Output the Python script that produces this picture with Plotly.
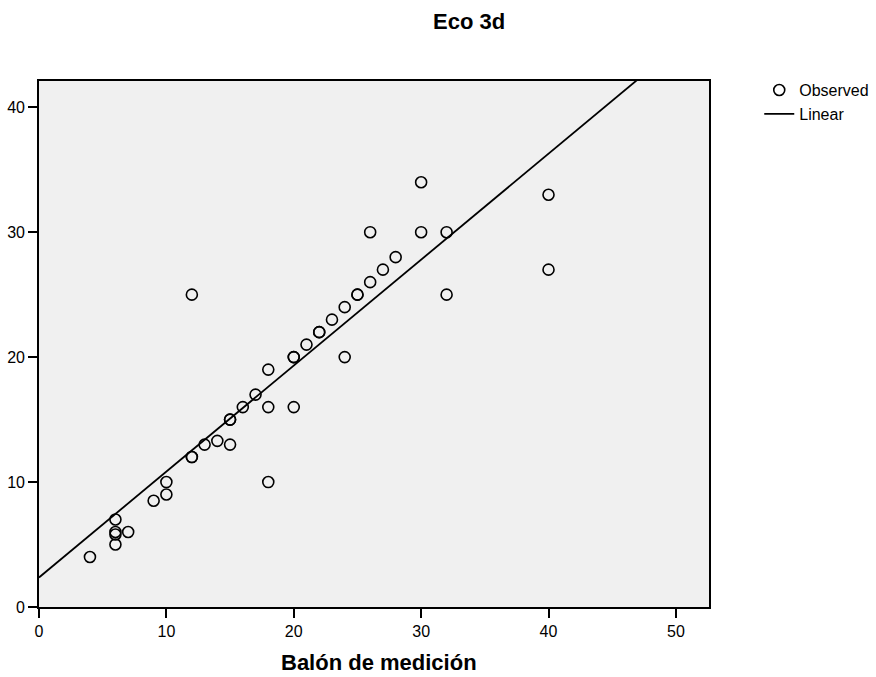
import plotly.graph_objects as go

# Observed data (Balón de medición vs Eco 3d)
balon = [4, 6, 6, 6, 6, 7, 9, 10, 10, 12, 12, 12, 13, 14, 15, 15, 15, 16, 17, 18, 18, 18,
         20, 20, 20, 21, 22, 22, 23, 24, 24, 25, 25, 26, 26, 27, 28, 30, 30, 32, 32, 40, 40]
eco3d = [4, 7, 6, 5.8, 5, 6, 8.5, 10, 9, 12, 12, 25, 13, 13.3, 15, 15, 13, 16, 17, 19, 16, 10,
         20, 20, 16, 21, 22, 22, 23, 24, 20, 25, 25, 26, 30, 27, 28, 34, 30, 30, 25, 33, 27]

# Linear fit
fit_intercept = 2.36
fit_slope = 0.848
fit_x = [0, 52.6]
fit_y = [fit_intercept + fit_slope * v for v in fit_x]

x_range = [0, 52.6]
y_range = [0, 42.1]
x_ticks = [0, 10, 20, 30, 40, 50]
y_ticks = [0, 10, 20, 30, 40]

FONT = "Liberation Sans, Arial, sans-serif"

fig = go.Figure()
fig.add_trace(go.Scatter(
    x=balon, y=eco3d, mode="markers", name="Observed",
    marker=dict(symbol="circle-open", size=11, color="black", line=dict(width=1.6, color="black")),
))
fig.add_trace(go.Scatter(
    x=fit_x, y=fit_y, mode="lines", name="Linear",
    line=dict(color="black", width=1.8),
))

axis_common = dict(
    showline=True, linecolor="black", linewidth=1.6, mirror=True,
    ticks="outside", ticklen=9, tickwidth=1.6, tickcolor="black",
    showgrid=False, zeroline=False, automargin=False,
    tickfont=dict(family=FONT, size=16, color="black"),
)

fig.update_layout(
    width=876, height=677,
    margin=dict(l=39, r=167, t=81, b=70, autoexpand=False),
    paper_bgcolor="white", plot_bgcolor="#f0f0f0",
    font=dict(family=FONT, color="black"),
    xaxis=dict(range=x_range, tickvals=x_ticks, **axis_common),
    yaxis=dict(range=y_range, tickvals=y_ticks, **axis_common),
    showlegend=True,
    legend=dict(x=1.075, y=1.015, xanchor="left", yanchor="top",
                font=dict(family=FONT, size=16, color="black"),
                bgcolor="rgba(0,0,0,0)", tracegroupgap=0, itemwidth=30),
    annotations=[
        dict(text="<b>Eco 3d</b>", xref="paper", yref="paper", x=(469 - 39) / 670, y=1,
             yshift=(81 - 21), xanchor="center", yanchor="middle", showarrow=False,
             font=dict(family=FONT, size=22, color="black")),
        dict(text="<b>Balón de medición</b>", xref="paper", yref="paper", x=(379 - 39) / 670, y=0,
             yshift=-(662 - 607), xanchor="center", yanchor="middle", showarrow=False,
             font=dict(family=FONT, size=22, color="black")),
    ],
)

fig.write_html("out.html", config={"displayModeBar": False},
               post_script="document.body.style.margin='0';document.body.style.padding='0';")
